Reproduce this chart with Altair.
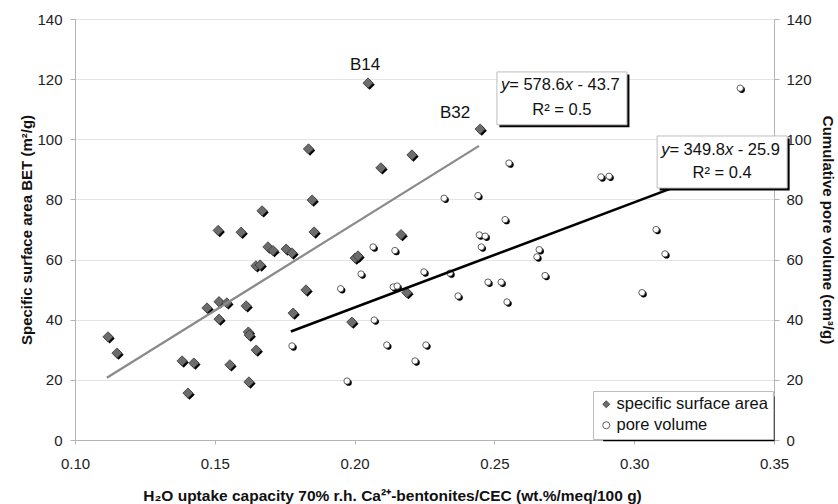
import altair as alt
import pandas as pd

FONT = "Liberation Sans"

# ---- data ----
ssa_x = [0.1118, 0.1150, 0.1383, 0.1404, 0.1425, 0.1472, 0.1512, 0.1515, 0.1515, 0.1543,
         0.1554, 0.1594, 0.1612, 0.1620, 0.1623, 0.1622, 0.1648, 0.1647, 0.1662, 0.1669,
         0.1690, 0.1708, 0.1755, 0.1776, 0.1780, 0.1826, 0.1835, 0.1848, 0.1855, 0.1990,
         0.2002, 0.2012, 0.2048, 0.2094, 0.2166, 0.2187, 0.2205, 0.2449]
ssa_y = [34.3, 28.9, 26.3, 15.6, 25.6, 43.9, 69.7, 46.0, 40.2, 45.6,
         25.0, 69.1, 44.6, 35.9, 34.9, 19.3, 29.9, 57.9, 58.2, 76.2,
         64.2, 63.0, 63.5, 62.2, 42.2, 49.9, 96.8, 79.8, 69.2, 39.2,
         60.5, 61.2, 118.7, 90.5, 68.3, 49.0, 94.8, 103.4]

pv_x = [0.1776, 0.1950, 0.1973, 0.2023, 0.2066, 0.2070, 0.2115, 0.2144, 0.2138, 0.2152,
        0.2216, 0.2248, 0.2255, 0.2320, 0.2341, 0.2370, 0.2441, 0.2446, 0.2467, 0.2453,
        0.2477, 0.2524, 0.2538, 0.2545, 0.2552, 0.2660, 0.2652, 0.2681, 0.2881, 0.2910,
        0.3028, 0.3078, 0.3110, 0.3379]
pv_y = [31.3, 50.3, 19.6, 55.2, 64.2, 39.9, 31.6, 63.0, 50.9, 51.2,
        26.3, 55.9, 31.6, 80.4, 55.5, 47.9, 81.3, 68.2, 67.8, 64.2,
        52.5, 52.5, 73.3, 45.9, 92.1, 63.3, 60.9, 54.7, 87.5, 87.7,
        49.0, 70.0, 61.9, 117.0]

series_names = ["specific surface area", "pore volume"]

fit_ssa_x = [0.1114, 0.2445]
fit_ssa_y = [20.7, 97.8]
fit_pv_x = [0.1772, 0.3128]
fit_pv_y = [36.1, 83.5]

label_names = ["B14", "B32"]
label_x = [0.2048, 0.2449]
label_y = [118.7, 103.4]

# regression-equation boxes (data units)
eq_slope = ["578.6", "349.8"]
eq_icpt = ["43.7", "25.9"]
eq_r2 = ["0.5", "0.4"]
box_x = [0.2509, 0.3082]
box_x2 = [0.2974, 0.3547]
box_y = [122.4, 101.1]
box_y2 = [104.8, 83.8]
line1_y = [118.1, 96.4]
line2_y = [109.7, 88.8]

# legend frame shadow (data units)
leg_x = [0.2880]
leg_x2 = [0.3493]
leg_y = [15.3]
leg_y2 = [0.4]

x_ticks = [0.10, 0.15, 0.20, 0.25, 0.30, 0.35]
y_ticks = [0, 20, 40, 60, 80, 100, 120, 140]

# ---- tables ----
pts = pd.DataFrame({
    "x": ssa_x + pv_x,
    "y": ssa_y + pv_y,
    "series": [series_names[0]] * len(ssa_x) + [series_names[1]] * len(pv_x),
})
fits = pd.DataFrame({
    "x": fit_ssa_x + fit_pv_x,
    "y": fit_ssa_y + fit_pv_y,
    "fit": ["ssa", "ssa", "pv", "pv"],
})
labels = pd.DataFrame({"name": label_names, "x": label_x, "y": label_y})
boxes = pd.DataFrame({
    "x": box_x, "x2": box_x2, "y": box_y, "y2": box_y2,
    "l1": line1_y, "l2": line2_y,
    "eq": ["= " + s for s in eq_slope],
    "ic": ["- " + s for s in eq_icpt],
    "r2": ["R\u00b2 = " + s for s in eq_r2],
})
boxes["xc"] = (boxes["x"] + boxes["x2"]) / 2
legbox = pd.DataFrame({"x": leg_x, "x2": leg_x2, "y": leg_y, "y2": leg_y2})

AX_GRAY = "#b4b4b4"
xscale = alt.Scale(domain=[0.10, 0.35], nice=False, zero=False)
yscale = alt.Scale(domain=[0, 140], nice=False)

x_axis = alt.Axis(values=x_ticks, format=".2f", grid=False, domainColor=AX_GRAY,
                  tickColor=AX_GRAY, tickSize=4, labelFontSize=15, labelFont=FONT,
                  labelColor="#222", labelPadding=12, labelFlush=False,
                  title="H\u2082O uptake capacity 70% r.h. Ca\u00b2\u207a-bentonites/CEC (wt.%/meq/100 g)",
                  titleFont=FONT, titleFontSize=15.5, titleFontWeight="bold", titleColor="#111",
                  titlePadding=17, titleX=317)


def X(field="x"):
    return alt.X(f"{field}:Q", scale=xscale, axis=x_axis)


def Yn(field="y"):
    return alt.Y(f"{field}:Q", scale=yscale, axis=None)


left_axis = alt.Axis(values=y_ticks, grid=True, gridColor="#e4e4e4", domainColor=AX_GRAY,
                     tickColor=AX_GRAY, tickSize=5, labelFontSize=15, labelFont=FONT,
                     labelColor="#222", labelPadding=8,
                     title="Specific surface area BET (m\u00b2/g)", titleFont=FONT,
                     titleFontSize=15, titleFontWeight="bold", titleColor="#111",
                     titlePadding=2)
right_axis = alt.Axis(values=y_ticks, grid=False, orient="right", domainColor=AX_GRAY,
                      tickColor=AX_GRAY, tickSize=5, labelFontSize=15, labelFont=FONT,
                      labelColor="#222", labelPadding=7,
                      title="Cumulative pore volume (cm\u00b3/g)", titleFont=FONT,
                      titleFontSize=15, titleFontWeight="bold", titleColor="#111",
                      titlePadding=8)

fit_lines = alt.Chart(fits).mark_line(strokeCap="butt").encode(
    x=X(), y=Yn(), detail="fit:N",
    color=alt.Color("fit:N", scale=alt.Scale(domain=["ssa", "pv"], range=["#8a8a8a", "#000000"]), legend=None),
    strokeWidth=alt.StrokeWidth("fit:N", scale=alt.Scale(domain=["ssa", "pv"], range=[2.2, 2.6]), legend=None),
)

shape_scale = alt.Scale(domain=series_names, range=["diamond", "circle"])
fill_scale = alt.Scale(domain=series_names, range=["#6c6c6c", "#ffffff"])
stroke_scale = alt.Scale(domain=series_names, range=["#3a3a3a", "#3a3a3a"])
pt_size = alt.condition(alt.datum.series == series_names[0], alt.value(105), alt.value(40))
leg = alt.Legend(title=None, orient="bottom-right", offset=1, zindex=1)

shadow = alt.Chart(pts).mark_point(filled=True, color="#000000", opacity=1,
                                   xOffset=1.6, yOffset=1.6).encode(
    x=X(), y=alt.Y("y:Q", scale=yscale, axis=left_axis),
    shape=alt.Shape("series:N", scale=shape_scale, legend=leg),
    size=pt_size,
)
points = alt.Chart(pts).mark_point(filled=True, opacity=1, strokeWidth=0.8).encode(
    x=X(), y=alt.Y("y:Q", scale=yscale, axis=right_axis),
    shape=alt.Shape("series:N", scale=shape_scale, legend=leg),
    fill=alt.Fill("series:N", scale=fill_scale, legend=leg),
    stroke=alt.Stroke("series:N", scale=stroke_scale, legend=leg),
    size=pt_size,
)

blabels = alt.Chart(labels).transform_filter(alt.datum.name == "B14").mark_text(
    font=FONT, fontSize=17, color="#111", dy=-18, dx=-3).encode(x=X(), y=Yn(), text="name:N") + \
    alt.Chart(labels).transform_filter(alt.datum.name == "B32").mark_text(
    font=FONT, fontSize=17, color="#111", dy=-16, dx=-25).encode(x=X(), y=Yn(), text="name:N")

box_shadow = alt.Chart(boxes).mark_rect(color="#000000", xOffset=2.5, yOffset=2.5,
                                        x2Offset=2.5, y2Offset=2.5).encode(
    x=X(), x2="x2:Q", y=Yn(), y2="y2:Q")
box_face = alt.Chart(boxes).mark_rect(fill="#ffffff", stroke="#bdbdbd", strokeWidth=1).encode(
    x=X(), x2="x2:Q", y=Yn(), y2="y2:Q")

FS = 16.5
txt = dict(font=FONT, fontSize=FS, color="#111", baseline="middle", align="left")
t_y = alt.Chart(boxes).mark_text(fontStyle="italic", dx=4, text="y", **txt).encode(x=X(), y=Yn("l1"))
t_eq = alt.Chart(boxes).mark_text(dx=4 + 0.5 * FS, **txt).encode(x=X(), y=Yn("l1"), text="eq:N")
t_x = alt.Chart(boxes).mark_text(fontStyle="italic", dx=4 + 3.864 * FS, text="x", **txt).encode(x=X(), y=Yn("l1"))
t_ic = alt.Chart(boxes).mark_text(dx=4 + 4.64 * FS, **txt).encode(x=X(), y=Yn("l1"), text="ic:N")
t_r2 = alt.Chart(boxes).mark_text(font=FONT, fontSize=FS, color="#111", baseline="middle",
                                  align="center").encode(x=X("xc"), y=Yn("l2"), text="r2:N")

leg_shadow = alt.Chart(legbox).mark_rect(color="#000000", xOffset=2.5, yOffset=2.5,
                                         x2Offset=2.5, y2Offset=2.5).encode(
    x=X(), x2="x2:Q", y=Yn(), y2="y2:Q")

chart = alt.layer(
    shadow, points, fit_lines, blabels,
    box_shadow, box_face, t_y, t_eq, t_x, t_ic, t_r2, leg_shadow,
).resolve_scale(y="independent").properties(
    width=699, height=421,
    autosize=alt.AutoSizeParams(type="none"),
    padding={"left": 75, "top": 19, "right": 64, "bottom": 64},
    background="white",
).configure_view(stroke=AX_GRAY, strokeWidth=1).configure_legend(
    fillColor="#ffffff", strokeColor="#bdbdbd", strokeWidth=1,
    padding=5, labelFont=FONT, labelFontSize=16.5, labelColor="#111", symbolSize=50,
    symbolStrokeWidth=0.8, rowPadding=4, labelOffset=2,
    zindex=1,
)

chart.save("out.html", embed_options={"renderer": "svg", "actions": False})
